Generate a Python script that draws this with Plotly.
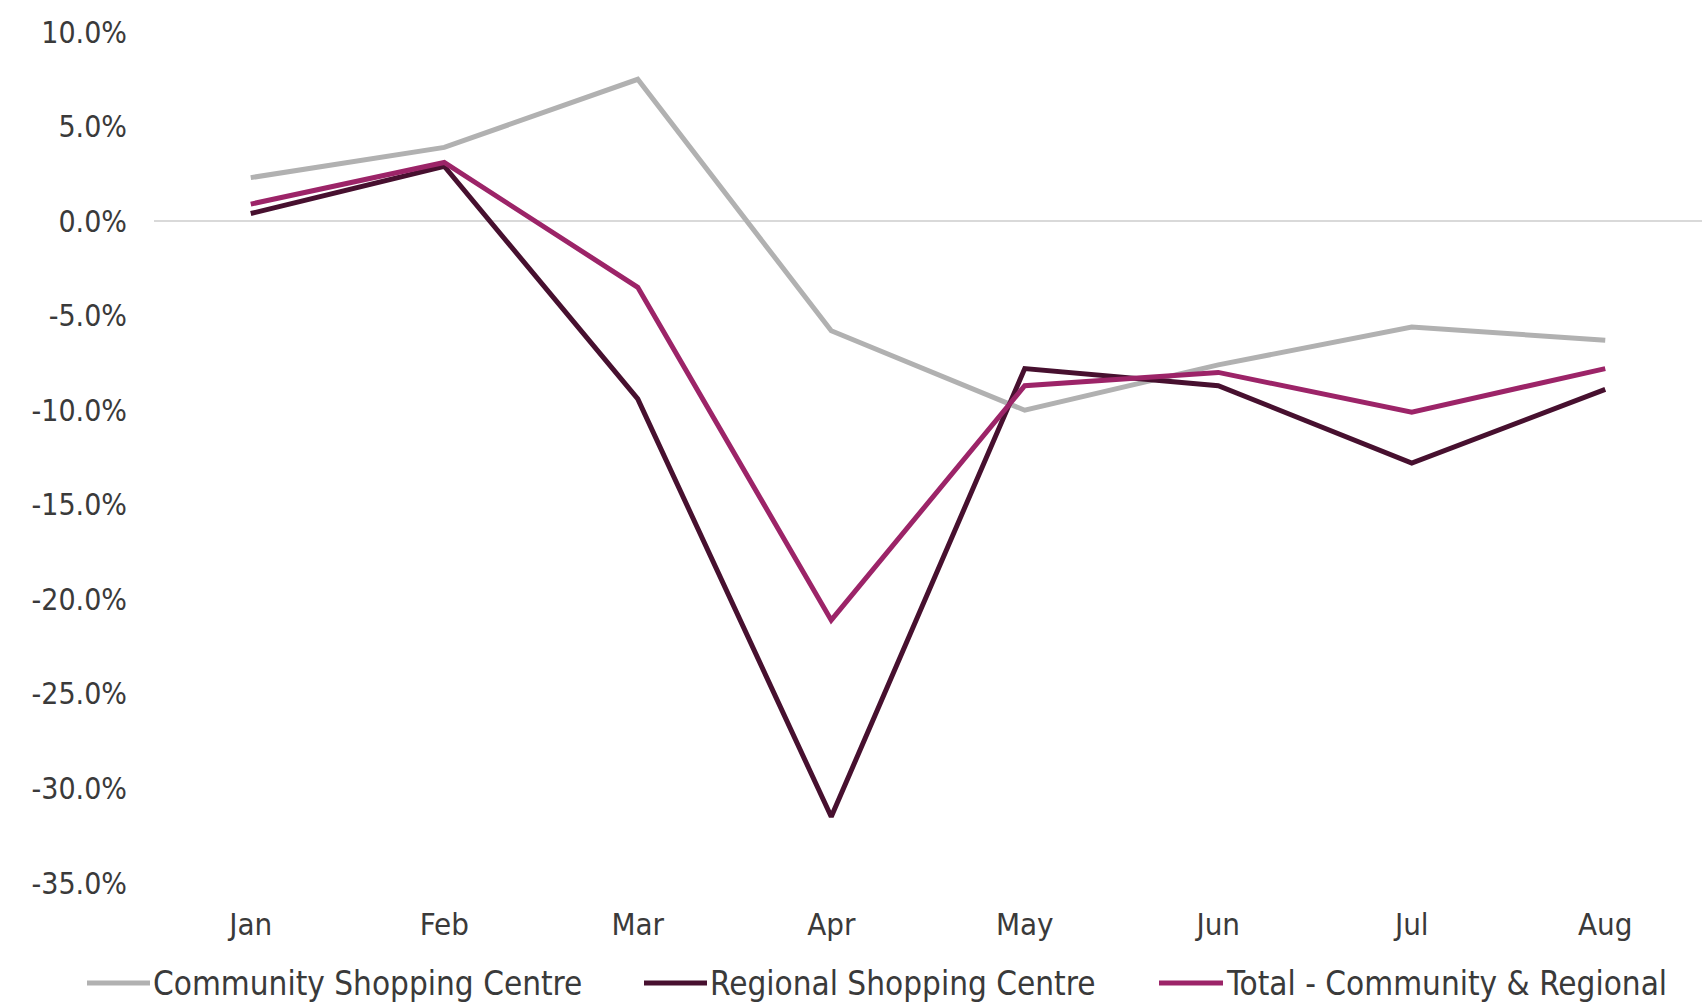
import plotly.graph_objects as go

# Monthly year-on-year change, by shopping centre type
months = ["Jan", "Feb", "Mar", "Apr", "May", "Jun", "Jul", "Aug"]
community = [2.3, 3.9, 7.5, -5.8, -10.0, -7.6, -5.6, -6.3]
regional = [0.4, 2.9, -9.4, -31.5, -7.8, -8.7, -12.8, -8.9]
total = [0.9, 3.1, -3.5, -21.1, -8.7, -8.0, -10.1, -7.8]

series_names = [
    "Community Shopping Centre",
    "Regional Shopping Centre",
    "Total - Community & Regional",
]
series_colors = ["#b1b1b1", "#47102f", "#9c2468"]

y_ticks = list(range(-35, 11, 5))
y_tick_text = [f"{v:.1f}%" for v in y_ticks]

FONT = "DejaVu Sans Condensed, DejaVu Sans, sans-serif"
TEXT_COLOR = "#3a3a3a"

W, H = 1702, 1003
plot_left, plot_top, plot_bottom_margin = 154, 32, 120

fig = go.Figure()
for name, values, color in zip(series_names, [community, regional, total], series_colors):
    fig.add_trace(
        go.Scatter(
            x=months,
            y=values,
            name=name,
            mode="lines",
            line=dict(color=color, width=5),
            showlegend=False,
        )
    )

fig.update_layout(
    width=W,
    height=H,
    margin=dict(l=plot_left, r=0, t=plot_top, b=plot_bottom_margin),
    paper_bgcolor="white",
    plot_bgcolor="white",
    font=dict(family=FONT, color=TEXT_COLOR, size=28),
    xaxis=dict(
        type="category",
        range=[-0.5, 7.5],
        showgrid=False,
        showline=False,
        zeroline=False,
        ticks="",
        ticklabelstandoff=20,
        tickfont=dict(size=31, family=FONT, color=TEXT_COLOR),
    ),
    yaxis=dict(
        range=[-35, 10],
        tickvals=y_ticks,
        ticktext=y_tick_text,
        showgrid=False,
        showline=False,
        zeroline=True,
        zerolinecolor="#d9d9d9",
        zerolinewidth=1.5,
        ticks="",
        ticklabelstandoff=26,
        tickfont=dict(size=30, family=FONT, color=TEXT_COLOR),
    ),
)

# Legend below the plot: a short line swatch followed by its label
plot_w = W - plot_left
plot_h = H - plot_top - plot_bottom_margin


def px_to_paper_x(px):
    return (px - plot_left) / plot_w


def px_to_paper_y(py):
    return 1 - (py - plot_top) / plot_h


legend_row_y = 983
legend_swatches = [(87, 150), (644, 707), (1159, 1223)]
for (x0, x1), name, color in zip(legend_swatches, series_names, series_colors):
    fig.add_shape(
        type="line",
        xref="paper", yref="paper",
        x0=px_to_paper_x(x0), x1=px_to_paper_x(x1),
        y0=px_to_paper_y(legend_row_y), y1=px_to_paper_y(legend_row_y),
        line=dict(color=color, width=5),
    )
    fig.add_annotation(
        xref="paper", yref="paper",
        x=px_to_paper_x(x1 + 1), y=px_to_paper_y(legend_row_y),
        xanchor="left", yanchor="middle",
        text=name,
        showarrow=False,
        font=dict(size=33, family=FONT, color=TEXT_COLOR),
    )

fig.write_html("out.html")
